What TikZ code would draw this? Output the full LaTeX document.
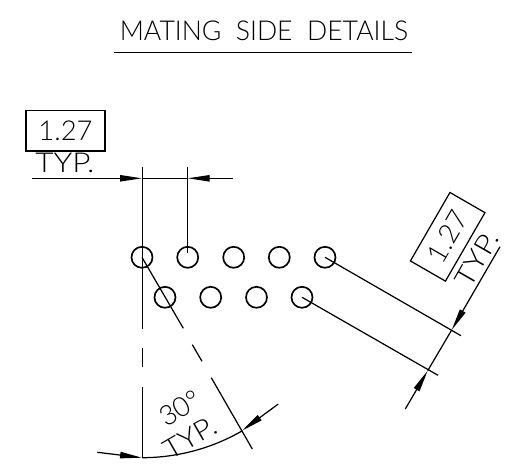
\documentclass[tikz,border=0pt]{standalone}
\usepackage{fontspec}
\setmainfont{Lato Light}
\usetikzlibrary{arrows.meta}
\tikzset{
	cadtext/.style={inner sep=0pt, font=\fontsize{15.6}{16}\selectfont},
	dimbox/.style={cadtext, draw, line width=0.7pt, minimum width=45pt, minimum height=23pt},
	dimline/.style={line width=0.7pt},
	dimarrow/.style={line width=0.7pt, -{Triangle[length=12.5pt, width=3.6pt]}},
	hole/.style={line width=0.95pt}
}

\begin{document}
\begin{tikzpicture}[x=0.02cm, y=-0.02cm]
	%%%%% START %%%%%
	\useasboundingbox (0, 0) rectangle (525, 473);

	\node[cadtext, xscale=0.97] (title) at (264, 31) {MATING\ \ SIDE\ \ DETAILS};
	\draw[line width=0.8pt] (114, 52.7) -- (411.7, 52.7);

	% holes
	\foreach \x in {142, 187.7, 233.7, 279.3, 325}
		\draw[hole] (\x, 257.3) circle (10.5);
	\foreach \x in {165, 210.7, 256.5, 302}
		\draw[hole] (\x, 297.3) circle (10.5);

	% top dimension
	\node[dimbox] (pitchbox) at (65.5, 130.8) {1.27};
	\node[cadtext, xscale=1.15] (pitchtyp) at (65, 162.5) {TYP.};
	\draw[dimarrow] (32, 178.3) -- (142, 178.3);
	\draw[dimarrow] (233, 178.3) -- (187.7, 178.3);
	\draw[dimline] (142, 178.3) -- (187.7, 178.3);
	\draw[dimline] (142.3, 166.7) -- (142.3, 329);
	\draw[dimline] (187.7, 166.7) -- (187.7, 253);

	% row dimension
	\node[dimbox, rotate=60] (rowbox) at (447.7, 236.8) {1.27};
	\node[cadtext, rotate=60, xscale=1.15] (rowtyp) at (477, 259) {TYP.};
	\draw[dimline] (325, 257.3) -- (461, 335.7);
	\draw[dimline] (302, 297.3) -- (438, 375.3);
	\draw[dimarrow] (500, 246.7) -- (451.7, 330);
	\draw[dimarrow] (405.3, 409) -- (427.7, 370.7);
	\draw[dimline] (451.7, 330) -- (427.7, 370.7);

	% angle
	\draw[dimline] (142.3, 348) -- (142.3, 367);
	\draw[dimline] (142.3, 386.7) -- (142.3, 457.7);
	\draw[dimline] (142, 257.3) -- (183.3, 328.3);
	\draw[dimline] (192.3, 344.7) -- (202, 361.3);
	\draw[dimline] (211.3, 377.7) -- (252.3, 449);
	\draw[dimline] (142, 457.7) arc (90:60:200.4);
	\draw[dimarrow] (97.3, 452.3) -- (142, 457.7);
	\draw[dimarrow] (278.3, 404) -- (242, 430.7);
	\node[cadtext, rotate=30] (angletext) at (180, 408) {30°};
	\node[cadtext, rotate=30, xscale=1.1] (angletyp) at (190, 438) {TYP.};

	%%%%% END %%%%%
\end{tikzpicture}
\end{document}
